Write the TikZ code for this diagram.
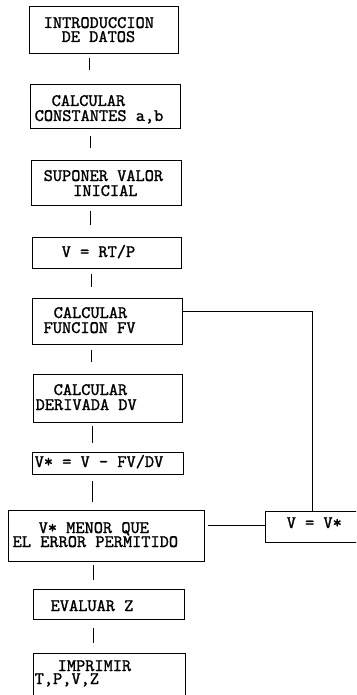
\documentclass[tikz,border=0pt]{standalone}
\usepackage{fontspec}
\usetikzlibrary{calc}
\newfontfamily\twfont{lmmono10-regular.otf}[FakeBold=1.3]
\newcommand\twolines[3]{\vtop{\baselineskip=#1\relax\hbox{#2}\hbox{#3}}}
\begin{document}
\begin{tikzpicture}[x=1pt,y=-1pt,
  box/.style={draw, line width=1pt, inner sep=0pt, anchor=north west},
  txt/.style={anchor=base west, inner sep=0pt, font=\twfont\fontsize{17.5}{14}\selectfont},
  conn/.style={line width=1pt}]
\useasboundingbox (0,0) rectangle (356,695);
\clip (0,0) rectangle (356,695);
\fill[white] (0,0) rectangle (356,695);
% boxes
\node[box, minimum width=149pt, minimum height=47pt] (b1) at (29,6) {};
\node[box, minimum width=150pt, minimum height=44pt] (b2) at (30,84) {};
\node[box, minimum width=150pt, minimum height=45pt] (b3) at (31,160) {};
\node[box, minimum width=149pt, minimum height=31pt] (b4) at (32,237) {};
\node[box, minimum width=150pt, minimum height=46pt] (b5) at (32,298) {};
\node[box, minimum width=149pt, minimum height=48pt] (b6) at (33,374) {};
\node[box, minimum width=151pt, minimum height=22pt] (b7) at (32,452) {};
\node[box, minimum width=196pt, minimum height=51pt] (b8) at (8,510) {};
\node[box, minimum width=151pt, minimum height=30pt] (b9) at (33,589) {};
\node[box, minimum width=152pt, minimum height=50pt] (b10) at (33,653) {};
\node[box, minimum width=94pt, minimum height=31pt] (b11) at (265,511) {};
% texts
\node[txt] (t1) at (43.5,28) {\twolines{14pt}{INTRODUCCION}{\kern18pt DE DATOS}};
\node[txt] (t2) at (34.5,106) {\twolines{15pt}{\kern17pt CALCULAR}{CONSTANTES a,b}};
\node[txt] (t3) at (43.5,181) {\twolines{15pt}{SUPONER VALOR}{\kern29.5pt INICIAL}};
\node[txt] (t4) at (61.5,257) {V = RT/P};
\node[txt] (t5) at (43.5,318) {\twolines{15pt}{\kern10pt CALCULAR}{FUNCION FV}};
\node[txt] (t6) at (35.5,395) {\twolines{15pt}{\kern18pt CALCULAR}{DERIVADA DV}};
\node[txt] (t7) at (34.5,467) {V* = V - FV/DV};
\node[txt] (t8) at (12.5,533) {\twolines{14pt}{\kern26pt V* MENOR QUE}{EL ERROR PERMITIDO}};
\node[txt] (t9) at (50.5,611) {EVALUAR Z};
\node[txt] (t10) at (34.5,671) {\twolines{13pt}{\kern23pt IMPRIMIR}{T,P,V,Z}};
\node[txt] (t11) at (286.5,528) {V = V*};
% x positions of connectors
\coordinate (xa) at (89,0);
\coordinate (xb) at (90,0);
\coordinate (xc) at (91,0);
\coordinate (xd) at (92,0);
\coordinate (xe) at (93,0);
% connectors
\draw[conn] ($(b1.south -| xa)+(0,4)$) -- ($(b2.north -| xa)+(0,-14)$);
\draw[conn] ($(b2.south -| xb)+(0,7)$) -- ($(b3.north -| xb)+(0,-12)$);
\draw[conn] ($(b3.south -| xb)+(0,5)$) -- ($(b4.north -| xb)+(0,-12)$);
\draw[conn] ($(b4.south -| xc)+(0,5)$) -- ($(b5.north -| xc)+(0,-11)$);
\draw[conn] ($(b5.south -| xc)+(0,5)$) -- ($(b6.north -| xc)+(0,-12)$);
\draw[conn] ($(b6.south -| xd)+(0,3)$) -- ($(b7.north -| xd)+(0,-9)$);
\draw[conn] ($(b7.south -| xd)+(0,6)$) -- ($(b8.north -| xd)+(0,-8)$);
\draw[conn] ($(b8.south -| xe)+(0,3)$) -- ($(b9.north -| xe)+(0,-9)$);
\draw[conn] ($(b9.south -| xe)+(0,8)$) -- ($(b10.north -| xe)+(0,-10)$);
% feedback
\draw[conn] ($(b5.east)+(0,-10)$) -| (b11.north);
\draw[conn] ($(b8.east)+(3,-11)$) -- ($(b11.west)+(0,-2)$);
\end{tikzpicture}
\end{document}
